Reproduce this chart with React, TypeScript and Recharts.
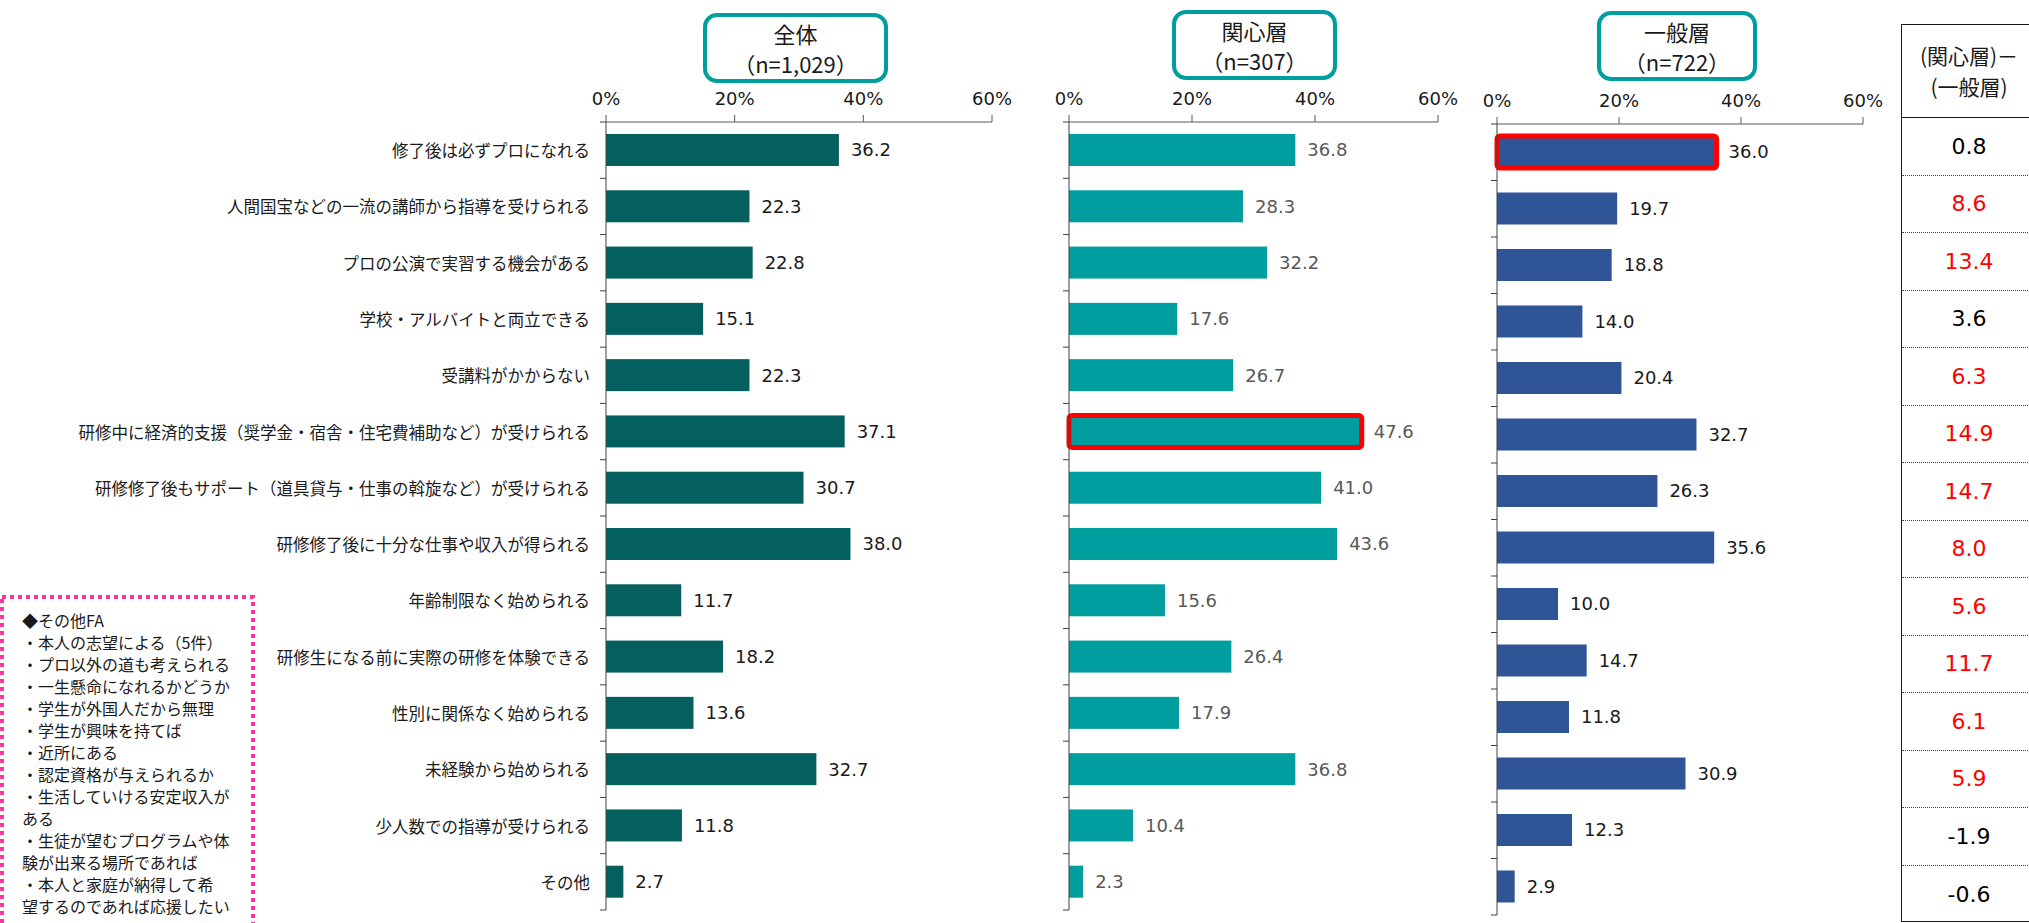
import React from "react";
import { Bar, BarChart, LabelList, XAxis, YAxis } from "recharts";

const categories = [
  "修了後は必ずプロになれる",
  "人間国宝などの一流の講師から指導を受けられる",
  "プロの公演で実習する機会がある",
  "学校・アルバイトと両立できる",
  "受講料がかからない",
  "研修中に経済的支援（奨学金・宿舎・住宅費補助など）が受けられる",
  "研修修了後もサポート（道具貸与・仕事の斡旋など）が受けられる",
  "研修修了後に十分な仕事や収入が得られる",
  "年齢制限なく始められる",
  "研修生になる前に実際の研修を体験できる",
  "性別に関係なく始められる",
  "未経験から始められる",
  "少人数での指導が受けられる",
  "その他",
];

const totalValues = [36.2, 22.3, 22.8, 15.1, 22.3, 37.1, 30.7, 38.0, 11.7, 18.2, 13.6, 32.7, 11.8, 2.7];
const interestedValues = [36.8, 28.3, 32.2, 17.6, 26.7, 47.6, 41.0, 43.6, 15.6, 26.4, 17.9, 36.8, 10.4, 2.3];
const generalValues = [36.0, 19.7, 18.8, 14.0, 20.4, 32.7, 26.3, 35.6, 10.0, 14.7, 11.8, 30.9, 12.3, 2.9];
const diffValues = [0.8, 8.6, 13.4, 3.6, 6.3, 14.9, 14.7, 8.0, 5.6, 11.7, 6.1, 5.9, -1.9, -0.6];

const percentTicks = [0, 20, 40, 60];
const titles = ["全体", "関心層", "一般層"];
const sampleSizes = ["（n=1,029）", "（n=307）", "（n=722）"];
const diffHeader = ["(関心層)－", "(一般層)"];

const otherFaLines = [
  "◆その他FA",
  "・本人の志望による（5件）",
  "・プロ以外の道も考えられる",
  "・一生懸命になれるかどうか",
  "・学生が外国人だから無理",
  "・学生が興味を持てば",
  "・近所にある",
  "・認定資格が与えられるか",
  "・生活していける安定収入が",
  "ある",
  "・生徒が望むプログラムや体",
  "験が出来る場所であれば",
  "・本人と家庭が納得して希",
  "望するのであれば応援したい",
];

const JP = "'Noto Sans CJK JP', sans-serif";
const LATIN = "'DejaVu Sans', sans-serif";

type PanelProps = {
  values: number[];
  color: string;
  labelColor: string;
  highlight: number;
  left: number;
  width: number;
  axisWidth: number;
  rightMargin: number;
  axisY: number;
  bottomY: number;
  showNames: boolean;
};

const Panel = (p: PanelProps) => {
  const data = categories.map((name, i) => ({ name, value: p.values[i] }));
  const band = (p.bottomY - p.axisY) / categories.length;
  const axisX = p.axisWidth;

  // category ticks sit on the band edges, not the centres
  const renderTick = (props: any) => {
    const { y, payload } = props;
    const idx = props.index ?? payload.index;
    return (
      <g>
        {p.showNames && (
          <text
            x={axisX - 16}
            y={y}
            textAnchor="end"
            dominantBaseline="central"
            fontSize={16.5}
            fill="#1a1a1a"
            fontFamily={JP}
          >
            {payload.value}
          </text>
        )}
        <line x1={axisX - 6} x2={axisX} y1={y + band / 2} y2={y + band / 2} stroke="#404040" />
        {idx === 0 && (
          <line x1={axisX - 6} x2={axisX} y1={y - band / 2} y2={y - band / 2} stroke="#404040" />
        )}
      </g>
    );
  };

  const renderBar = (props: any) => {
    const { x, y, width, height, index } = props;
    return (
      <g>
        <rect x={x} y={y} width={width} height={height} fill={p.color} />
        {index === p.highlight && (
          <rect x={x} y={y} width={width} height={height} fill="none" stroke="#FF0000" strokeWidth={5} rx={3} />
        )}
      </g>
    );
  };

  return (
    <div style={{ position: "absolute", left: p.left, top: 0 }}>
      <BarChart
        width={p.width}
        height={923}
        data={data}
        layout="vertical"
        barSize={32}
        margin={{ top: p.axisY - 30, right: p.rightMargin, bottom: 923 - p.bottomY, left: 0 }}
      >
        <XAxis
          type="number"
          orientation="top"
          domain={[0, 60]}
          ticks={percentTicks}
          interval={0}
          tickFormatter={(v) => `${v}%`}
          tickSize={7}
          tickMargin={10}
          height={30}
          stroke="#595959"
          tick={{ fill: "#1a1a1a", fontSize: 18, fontFamily: LATIN }}
        />
        <YAxis
          type="category"
          dataKey="name"
          width={p.axisWidth}
          interval={0}
          tickLine={false}
          axisLine={{ stroke: "#404040" }}
          tick={renderTick}
        />
        <Bar dataKey="value" isAnimationActive={false} shape={renderBar}>
          <LabelList
            dataKey="value"
            position="right"
            offset={12}
            formatter={(v: any) => Number(v).toFixed(1)}
            fill={p.labelColor}
            fontSize={18}
            fontFamily={LATIN}
          />
        </Bar>
      </BarChart>
    </div>
  );
};

const titleBoxes = [
  { left: 703, top: 13, width: 185 },
  { left: 1172, top: 10, width: 165 },
  { left: 1597, top: 11, width: 160 },
];

export default function App() {
  return (
    <div
      style={{
        position: "absolute",
        left: 0,
        top: 0,
        width: 2029,
        height: 923,
        overflow: "hidden",
        background: "#fff",
        fontFamily: JP,
      }}
    >
      <Panel
        values={totalValues}
        color="#03605F"
        labelColor="#1a1a1a"
        highlight={-1}
        left={0}
        width={1030}
        axisWidth={606}
        rightMargin={38}
        axisY={122}
        bottomY={910}
        showNames
      />
      <Panel
        values={interestedValues}
        color="#009E9F"
        labelColor="#595959"
        highlight={5}
        left={1040}
        width={430}
        axisWidth={29}
        rightMargin={32}
        axisY={122}
        bottomY={910}
        showNames={false}
      />
      <Panel
        values={generalValues}
        color="#2F5597"
        labelColor="#1a1a1a"
        highlight={0}
        left={1470}
        width={430}
        axisWidth={27}
        rightMargin={37}
        axisY={124}
        bottomY={915}
        showNames={false}
      />

      {titleBoxes.map((b, i) => (
        <div
          key={titles[i]}
          style={{
            position: "absolute",
            left: b.left,
            top: b.top,
            width: b.width,
            height: 70,
            boxSizing: "border-box",
            border: "4.5px solid #009E9E",
            borderRadius: 14,
            textAlign: "center",
            fontSize: 22,
            lineHeight: "32px",
            color: "#1a1a1a",
            paddingTop: 0,
          }}
        >
          <div style={{ height: 30 }}>{titles[i]}</div>
          <div>{sampleSizes[i]}</div>
        </div>
      ))}

      {/* difference table */}
      <div
        style={{
          position: "absolute",
          left: 1901,
          top: 24,
          width: 140,
          height: 898,
          boxSizing: "border-box",
          borderLeft: "1.5px solid #1a1a1a",
          borderTop: "1.5px solid #1a1a1a",
          borderBottom: "1.5px solid #1a1a1a",
        }}
      >
        <div
          style={{
            height: 93,
            boxSizing: "border-box",
            borderBottom: "1.5px solid #1a1a1a",
            width: 134,
            textAlign: "center",
            fontSize: 21,
            lineHeight: "31px",
            paddingTop: 15,
            color: "#1a1a1a",
          }}
        >
          <div>{diffHeader[0]}</div>
          <div>{diffHeader[1]}</div>
        </div>
        {diffValues.map((d, i) => (
          <div
            key={i}
            style={{
              height: 57.5,
              boxSizing: "border-box",
              borderBottom: i < diffValues.length - 1 ? "1px dotted #404040" : "none",
              display: "flex",
              alignItems: "center",
              justifyContent: "center",
              width: 134,
              fontFamily: LATIN,
              fontSize: 22,
              color: d >= 5 ? "#FF0000" : "#000",
            }}
          >
            {d.toFixed(1)}
          </div>
        ))}
      </div>

      {/* other FA box */}
      <svg style={{ position: "absolute", left: 0, top: 595 }} width={258} height={330}>
        <rect
          x={2}
          y={2}
          width={251}
          height={360}
          fill="none"
          stroke="#FF3399"
          strokeWidth={4}
          strokeDasharray="4 4"
        />
      </svg>
      <div
        style={{
          position: "absolute",
          left: 22,
          top: 609,
          fontSize: 16,
          lineHeight: "22px",
          color: "#1a1a1a",
          whiteSpace: "nowrap",
        }}
      >
        {otherFaLines.map((line) => (
          <div key={line}>{line}</div>
        ))}
      </div>
    </div>
  );
}
